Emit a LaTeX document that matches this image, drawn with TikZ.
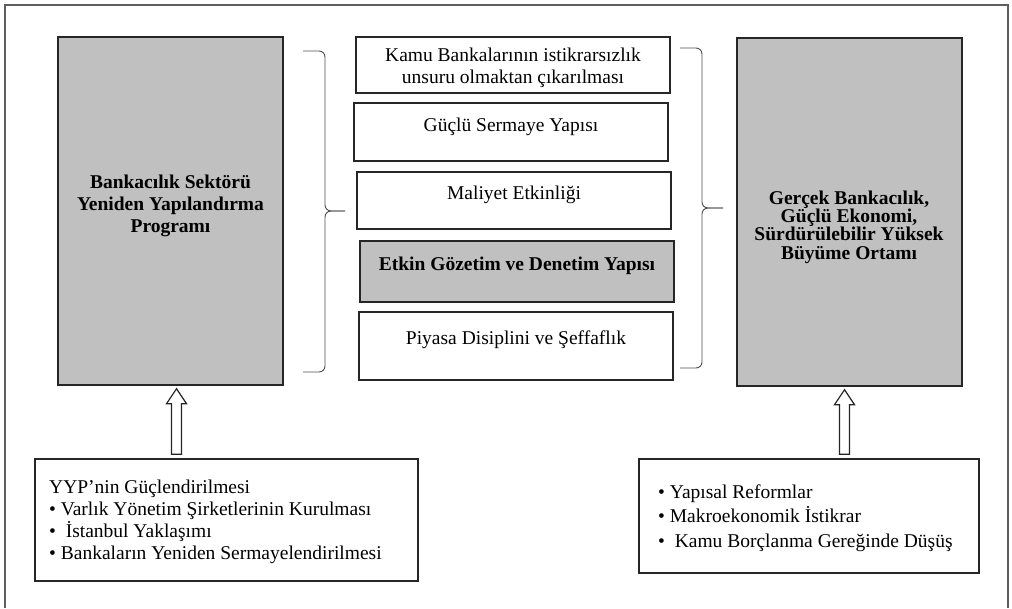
\documentclass[tikz,border=0pt]{standalone}
\usepackage{fontspec}
\setmainfont{Liberation Serif}
\usetikzlibrary{calc}

\definecolor{panelgray}{RGB}{192,192,192}
\definecolor{framegray}{RGB}{95,95,95}

% hollow upward block arrow: x position, lower node, upper node
\newcommand{\hollowup}[3]{%
  \draw[blockarrow] let \p1=(#2.north), \p2=(#3.south) in
    (#1pt-5pt,\y1+4pt) -- (#1pt-5pt,\y2-18pt) -- (#1pt-10pt,\y2-18pt) -- (#1pt,\y2-3pt)
    -- (#1pt+10pt,\y2-18pt) -- (#1pt+5pt,\y2-18pt) -- (#1pt+5pt,\y1+4pt) -- cycle;}

\begin{document}
\begin{tikzpicture}[x=1pt, y=-1pt, font=\fontsize{19.5}{21.6}\selectfont,
    box/.style={draw=black!85, line width=1.4pt, inner sep=0pt},
    greybox/.style={box, fill=panelgray},
    lbl/.style={inner sep=0pt, align=center},
    bracestroke/.style={draw=black!70, line width=0.9pt, rounded corners=6pt},
    blockarrow/.style={draw=black!85, line width=1.2pt, fill=white}]
    \useasboundingbox (0,0) rectangle (1012,608);
    \draw[framegray, line width=1.5pt] (5,608) -- (5,5) -- (1008,5) -- (1008,608);

    % side panels
    \node[greybox, minimum width=225pt, minimum height=348pt] at (170.5,211) (bsyp) {};
    \node[lbl, font=\bfseries\fontsize{19.5}{22}\selectfont] at (170.5,206) (bsyp-t)
        {Bankacılık Sektörü\\Yeniden Yapılandırma\\Programı};
    \node[greybox, minimum width=225pt, minimum height=348pt] at (849.5,212) (gbo) {};
    \node[lbl, font=\bfseries\fontsize{19.5}{18.3}\selectfont] at (849,227) (gbo-t)
        {Gerçek Bankacılık,\\Güçlü Ekonomi,\\Sürdürülebilir Yüksek\\Büyüme Ortamı};

    % middle column
    \node[box, minimum width=314pt, minimum height=56pt] at (513,65) (kamu) {};
    \node[lbl] at (513,68) (kamu-t) {Kamu Bankalarının istikrarsızlık\\unsuru olmaktan çıkarılması};
    \node[box, minimum width=314pt, minimum height=58pt] at (511,132) (sermaye) {};
    \node[lbl, anchor=base] at (511,131) (sermaye-t) {Güçlü Sermaye Yapısı};
    \node[box, minimum width=314pt, minimum height=57pt] at (514,200.5) (maliyet) {};
    \node[lbl, anchor=base] at (514,199) (maliyet-t) {Maliyet Etkinliği};
    \node[greybox, minimum width=314pt, minimum height=61pt] at (517,271.5) (denetim) {};
    \node[lbl, anchor=base, font=\bfseries\fontsize{19.5}{21.6}\selectfont] at (517,270) (denetim-t)
        {Etkin Gözetim ve Denetim Yapısı};
    \node[box, minimum width=314pt, minimum height=68pt] at (516,346) (piyasa) {};
    \node[lbl, anchor=base] at (516,344) (piyasa-t) {Piyasa Disiplini ve Şeffaflık};

    % braces
    \draw[bracestroke] (303,51) -- (325,51) -- (325,211) -- (345,211);
    \draw[bracestroke] (345,211) -- (325,211) -- (325,372) -- (303,372);
    \draw[bracestroke] (680,48) -- (702,48) -- (702,208) -- (723,208);
    \draw[bracestroke] (723,208) -- (702,208) -- (702,368) -- (680,368);

    % bottom boxes
    \node[box, minimum width=383pt, minimum height=122pt] at (226.5,520) (yyp) {};
    \node[lbl, align=left, anchor=west, font=\fontsize{19.5}{21.9}\selectfont] at (49,521.5) (yyp-t)
        {YYP’nin Güçlendirilmesi\\• Varlık Yönetim Şirketlerinin Kurulması\\•\ \ İstanbul Yaklaşımı\\• Bankaların Yeniden Sermayelendirilmesi};
    \node[box, minimum width=340pt, minimum height=114pt] at (809,516) (reform) {};
    \node[lbl, align=left, anchor=west, font=\fontsize{19.5}{24.5}\selectfont] at (658,518) (reform-t)
        {• Yapısal Reformlar\\• Makroekonomik İstikrar\\•\ \ Kamu Borçlanma Gereğinde Düşüş};

    \hollowup{176.5}{yyp}{bsyp}
    \hollowup{844.5}{reform}{gbo}
\end{tikzpicture}
\end{document}
